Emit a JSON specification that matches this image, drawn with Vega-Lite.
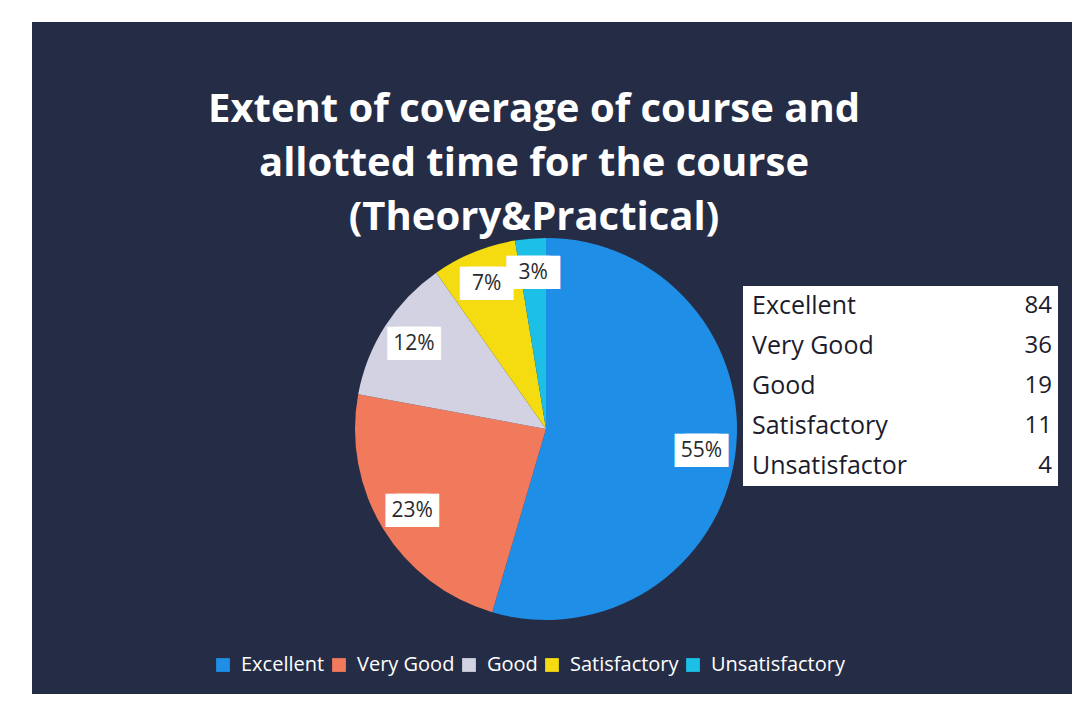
{
  "$schema": "https://vega.github.io/schema/vega-lite/v6.json",
  "autosize": "none",
  "width": 1040,
  "height": 672,
  "padding": {"left": 32, "top": 22, "right": 0, "bottom": 18},
  "background": "white",
  "config": {"view": {"fill": "#252d46", "stroke": null}, "font": "Open Sans"},
  "title": {
    "text": ["Extent of coverage of course and", "allotted time for the course", "(Theory&Practical)"],
    "color": "white",
    "font": "Open Sans",
    "fontWeight": "bold",
    "fontSize": 40,
    "lineHeight": 54,
    "anchor": "middle",
    "baseline": "top",
    "offset": -216,
    "dx": -18
  },
  "data": {
    "values": [
      {"category": "Excellent", "count": 84, "rank": 1, "pct": "55%"},
      {"category": "Very Good", "count": 36, "rank": 2, "pct": "23%"},
      {"category": "Good", "count": 19, "rank": 3, "pct": "12%"},
      {"category": "Satisfactory", "count": 11, "rank": 4, "pct": "7%"},
      {"category": "Unsatisfactory", "count": 4, "rank": 5, "pct": "3%"}
    ]
  },
  "layer": [
    {
      "mark": {"type": "arc", "outerRadius": 191, "xOffset": -6, "yOffset": 71},
      "encoding": {
        "theta": {"field": "count", "type": "quantitative", "stack": true},
        "order": {"field": "rank", "type": "quantitative"},
        "color": {
          "field": "category",
          "type": "nominal",
          "sort": ["Excellent", "Very Good", "Good", "Satisfactory", "Unsatisfactory"],
          "scale": {
            "domain": ["Excellent", "Very Good", "Good", "Satisfactory", "Unsatisfactory"],
            "range": ["#1e8ee6", "#f27a5c", "#d2d2e2", "#f5dc10", "#1cc0e6"]
          },
          "legend": {
            "orient": "none",
            "legendX": 181,
            "legendY": 633,
            "direction": "horizontal",
            "title": null,
            "symbolType": "square",
            "symbolSize": 190,
            "symbolStrokeWidth": 0,
            "labelColor": "white",
            "labelFont": "Open Sans",
            "labelFontSize": 20,
            "labelOffset": 8,
            "columnPadding": 4
          }
        }
      }
    },
    {
      "mark": {"type": "text", "text": "██", "radius": 157, "xOffset": -11, "yOffset": 72, "color": "white", "font": "DejaVu Sans", "fontSize": 28, "align": "center", "baseline": "middle"},
      "encoding": {
        "theta": {"field": "count", "type": "quantitative", "stack": true},
        "order": {"field": "rank", "type": "quantitative"}
      }
    },
    {
      "mark": {"type": "text", "text": "██", "radius": 157, "xOffset": -1, "yOffset": 72, "color": "white", "font": "DejaVu Sans", "fontSize": 28, "align": "center", "baseline": "middle"},
      "encoding": {
        "theta": {"field": "count", "type": "quantitative", "stack": true},
        "order": {"field": "rank", "type": "quantitative"}
      }
    },
    {
      "mark": {"type": "text", "radius": 157, "xOffset": -6, "yOffset": 71, "color": "#2b2b2b", "font": "Open Sans", "fontSize": 21, "align": "center", "baseline": "middle"},
      "encoding": {
        "theta": {"field": "count", "type": "quantitative", "stack": true},
        "order": {"field": "rank", "type": "quantitative"},
        "text": {"field": "pct"}
      }
    },
    {
      "mark": {"type": "rect", "color": "white"},
      "encoding": {
        "y": {
          "field": "category",
          "type": "nominal",
          "sort": ["Excellent", "Very Good", "Good", "Satisfactory", "Unsatisfactory"],
          "scale": {"range": [264, 464], "paddingInner": 0, "paddingOuter": 0},
          "axis": null
        },
        "x": {"datum": 0, "type": "quantitative", "scale": {"domain": [0, 1], "range": [711, 1026]}, "axis": null},
        "x2": {"datum": 1}
      }
    },
    {
      "mark": {"type": "text", "align": "left", "baseline": "middle", "dx": 9, "color": "#1c1c2c", "font": "Open Sans", "fontSize": 25, "limit": 162, "ellipsis": "\u200b"},
      "encoding": {
        "y": {"field": "category", "type": "nominal", "sort": ["Excellent", "Very Good", "Good", "Satisfactory", "Unsatisfactory"]},
        "x": {"datum": 0, "type": "quantitative"},
        "text": {"field": "category"}
      }
    },
    {
      "mark": {"type": "text", "align": "right", "baseline": "middle", "dx": -6, "color": "#1c1c2c", "font": "Open Sans", "fontSize": 24},
      "encoding": {
        "y": {"field": "category", "type": "nominal", "sort": ["Excellent", "Very Good", "Good", "Satisfactory", "Unsatisfactory"]},
        "x": {"datum": 1, "type": "quantitative"},
        "text": {"field": "count"}
      }
    }
  ]
}
